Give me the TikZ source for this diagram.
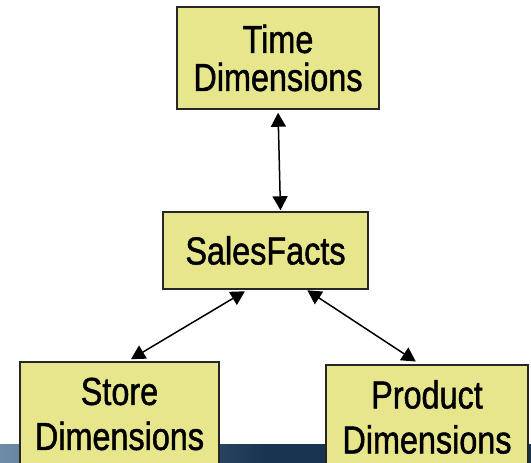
\documentclass[tikz,border=0pt]{standalone}
\usepackage{xcolor}
\usepackage{fontspec}
\setmainfont{Liberation Sans}[FakeStretch=0.83, FakeBold=1.2]
\usepackage{tikz}
\usetikzlibrary{arrows.meta, positioning}

\definecolor{boxfill}{RGB}{232,230,140}
\definecolor{bandlight}{RGB}{110,140,168}
\definecolor{banddark}{RGB}{24,52,80}

\tikzset{dimbox/.style={draw=black!85, fill=boxfill, line width=1.5pt,
    inner sep=0pt, align=center, font=\fontsize{39}{42}\selectfont}}

\begin{document}
\begin{tikzpicture}[x=1pt, y=-1pt,
				<->,
				>={Triangle[length=14pt,width=15pt]},
				thick]
				\useasboundingbox (0,0) rectangle (531,463);
				% band along the lower edge
				\shade[left color=bandlight, right color=banddark, middle color=banddark, draw=none] (0,444) rectangle (531,463);
				\node at (278,58) (time) [dimbox, minimum width=202pt, minimum height=102pt] {Time\\[-4pt]Dimensions};
				\node at (265.5,250.5) (sales) [dimbox, minimum width=205pt, minimum height=77pt] {SalesFacts};
				\node at (119.5,414) (store) [dimbox, minimum width=199pt, minimum height=104pt] {Store\\[3pt]Dimensions};
				\node at (427,417) (product) [dimbox, minimum width=202pt, minimum height=104pt] {Product\\[3pt]Dimensions};
				\draw[black, line width=1.5pt, shorten <=3pt, shorten >=1pt] (time.south) -- ([xshift=15pt]sales.north);
				\draw[black, line width=1.5pt, shorten <=3pt, shorten >=4pt] ([xshift=-18pt]sales.south) -- ([xshift=8pt]store.north);
				\draw[black, line width=1.5pt, shorten <=1pt, shorten >=5pt] ([xshift=41pt]sales.south) -- ([xshift=-7pt]product.north);
			\end{tikzpicture}
\end{document}
